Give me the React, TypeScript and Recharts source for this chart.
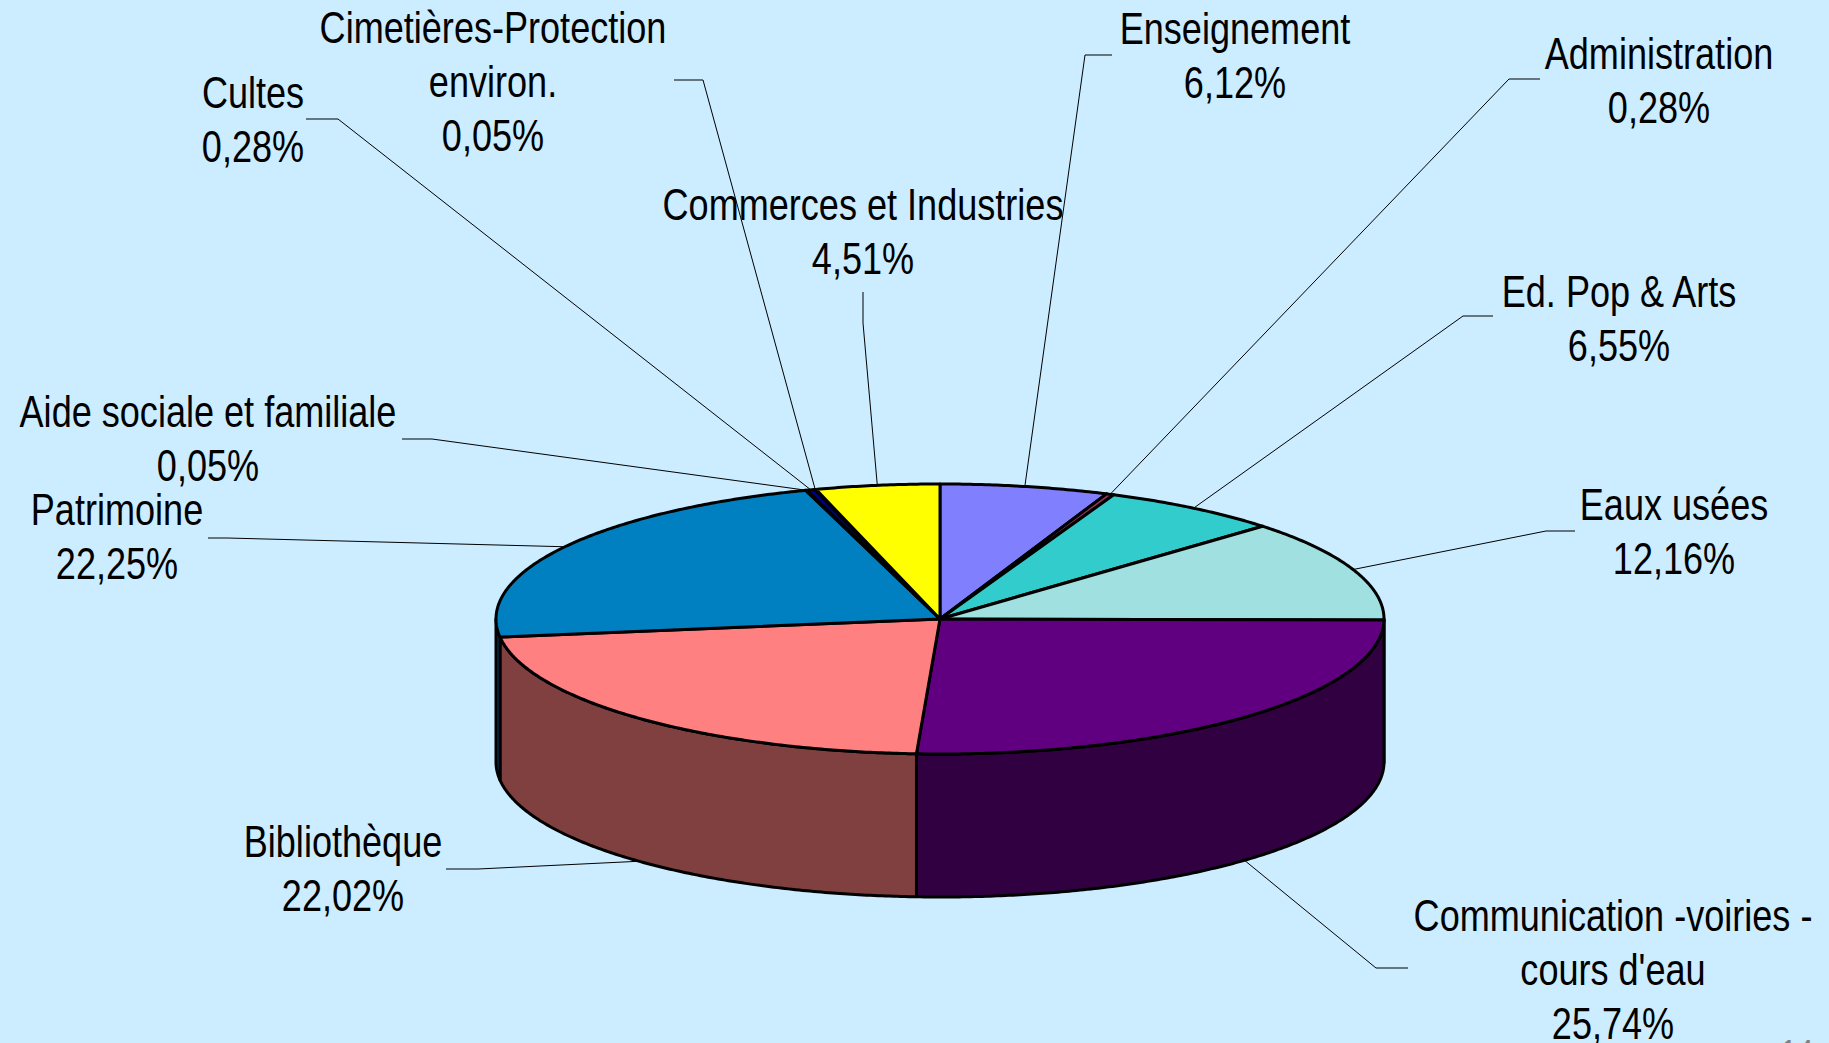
import React from 'react';
import { PieChart, Pie, Cell } from 'recharts';

const categories: string[] = [
  'Enseignement',
  'Administration',
  'Ed. Pop & Arts',
  'Eaux usées',
  "Communication -voiries -\ncours d'eau",
  'Bibliothèque',
  'Patrimoine',
  'Aide sociale et familiale',
  'Cultes',
  'Cimetières-Protection\nenviron.',
  'Commerces et Industries',
];

const shares: number[] = [6.12, 0.28, 6.55, 12.16, 25.74, 22.02, 22.25, 0.05, 0.28, 0.05, 4.51];

const sliceColors: string[] = [
  '#8080FF', '#993366', '#33CCCC', '#A0E0E0', '#600080', '#FF8080',
  '#0080C0', '#CCCCFF', '#000080', '#6666CC', '#FFFF00',
];

const percentLabels: string[] = shares.map((v) => v.toFixed(2).replace('.', ',') + '%');

// label text placement and leader-line knees (layout only)
const labelLayout: { x: number; y: number; knee: [number, number]; end: [number, number] }[] = [
  { x: 1235, y: 29, knee: [1085, 55], end: [1112, 55] },
  { x: 1659, y: 54, knee: [1509, 79], end: [1540, 79] },
  { x: 1619, y: 292, knee: [1463, 316], end: [1493, 316] },
  { x: 1674, y: 505, knee: [1546, 531], end: [1575, 531] },
  { x: 1613, y: 916, knee: [1376, 968], end: [1408, 968] },
  { x: 343, y: 842, knee: [478, 869], end: [446, 869] },
  { x: 117, y: 510, knee: [227, 538], end: [208, 538] },
  { x: 208, y: 412, knee: [432, 439], end: [402, 439] },
  { x: 253, y: 93, knee: [338, 119], end: [306, 119] },
  { x: 493, y: 28, knee: [703, 80], end: [674, 80] },
  { x: 863, y: 205, knee: [863, 323], end: [863, 292] },
];

const W = 1829;
const H = 1043;
const TILT = 135 / 444;
const DEPTH = 143;
const RAD = Math.PI / 180;
const LINE_GAP = 54;
const SQUEEZE = 0.82;
const FONT = "'Liberation Sans', Arial, sans-serif";

const data = categories.map((name, i) => ({ name, value: shares[i] }));

function darken(hex: string, f = 0.5): string {
  const n = parseInt(hex.slice(1), 16);
  const r = Math.round(((n >> 16) & 255) * f);
  const g = Math.round(((n >> 8) & 255) * f);
  const b = Math.round((n & 255) * f);
  return `rgb(${r},${g},${b})`;
}

const Slice3D = (props: any) => {
  const { cx, cy, outerRadius, startAngle, endAngle, fill } = props;
  const rx = outerRadius;
  const ry = outerRadius * TILT;
  const pt = (a: number, dy: number) =>
    `${(cx + rx * Math.cos(a * RAD)).toFixed(2)},${(cy - ry * Math.sin(a * RAD) + dy).toFixed(2)}`;
  const arc = (a0: number, a1: number, dy: number) => {
    const n = Math.max(2, Math.ceil(Math.abs(a1 - a0) / 0.5) + 1);
    const out: string[] = [];
    for (let i = 0; i < n; i++) out.push(pt(a0 + ((a1 - a0) * i) / (n - 1), dy));
    return out;
  };
  const top = `M${cx},${cy} L${arc(startAngle, endAngle, 0).join(' L')} Z`;
  const lo = Math.min(startAngle, endAngle);
  const hi = Math.max(startAngle, endAngle);
  const a1 = Math.max(lo, -180);
  const a2 = Math.min(hi, 0);
  let side: string | null = null;
  if (a2 > a1) {
    side = `M${arc(a2, a1, 0).join(' L')} L${arc(a1, a2, DEPTH).join(' L')} Z`;
  }
  return (
    <g>
      {side && <path d={side} fill={darken(fill)} stroke="#000" strokeWidth={3} strokeLinejoin="round" />}
      <path d={top} fill={fill} stroke="#000" strokeWidth={3} strokeLinejoin="round" />
    </g>
  );
};

const renderLabel = (props: any) => {
  const { cx, cy, midAngle, outerRadius, index } = props;
  const a = midAngle * RAD;
  const rx = outerRadius;
  const ry = outerRadius * TILT;
  const px = cx + rx * Math.cos(a);
  let py = cy - ry * Math.sin(a);
  if (Math.sin(a) < 0) py += DEPTH;
  const L = labelLayout[index];
  const lines = [...categories[index].split('\n'), percentLabels[index]];
  return (
    <g key={`lbl-${index}`}>
      <polyline
        points={`${px},${py} ${L.knee[0]},${L.knee[1]} ${L.end[0]},${L.end[1]}`}
        fill="none"
        stroke="#000"
        strokeWidth={1}
      />
      <g transform={`translate(${L.x},0) scale(${SQUEEZE},1)`}>
        {lines.map((t, i) => (
          <text
            key={i}
            x={0}
            y={L.y + i * LINE_GAP}
            textAnchor="middle"
            dominantBaseline="central"
            fontFamily={FONT}
            fontSize={44}
            fill="#000"
          >
            {t}
          </text>
        ))}
      </g>
    </g>
  );
};

export default function App() {
  return (
    <div
      style={{
        position: 'absolute',
        left: 0,
        top: 0,
        width: W,
        height: H,
        background: '#CCECFF',
        overflow: 'hidden',
      }}
    >
      <PieChart width={W} height={H} margin={{ top: 0, right: 0, bottom: 0, left: 0 }}>
        <Pie
          data={data}
          dataKey="value"
          nameKey="name"
          cx={940}
          cy={619}
          outerRadius={444}
          innerRadius={0}
          startAngle={90}
          endAngle={-270}
          isAnimationActive={false}
          labelLine={false}
          label={renderLabel}
          shape={Slice3D}
          inactiveShape={Slice3D}
          activeShape={Slice3D}
          stroke="none"
        >
          {data.map((_, i) => (
            <Cell key={i} fill={sliceColors[i]} />
          ))}
        </Pie>
      </PieChart>
      <svg width={W} height={H} style={{ position: 'absolute', left: 0, top: 0, pointerEvents: 'none' }}>
        <g transform={`translate(1797,0) scale(${SQUEEZE},1)`}>
          <text x={0} y={1064} textAnchor="middle" fontFamily={FONT} fontSize={36} fill="#808080">
            14
          </text>
        </g>
      </svg>
    </div>
  );
}
